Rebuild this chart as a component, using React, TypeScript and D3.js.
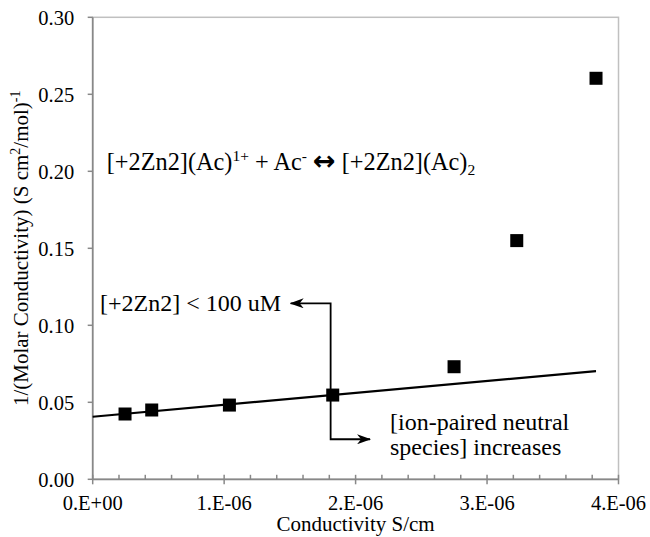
import { useEffect, useRef } from 'react';
import * as d3 from 'd3';

// measured points: conductivity (S/cm) vs 1/molar conductivity
const conductivity = [0.246e-6, 0.449e-6, 1.04e-6, 1.826e-6, 2.749e-6, 3.226e-6, 3.829e-6];
const invMolarCond = [0.0424, 0.045, 0.0482, 0.0547, 0.0731, 0.155, 0.2604];

// linear trendline (excel fit on dilute points), start / end
const trendX = [0, 3.829e-6];
const trendY = [0.0406, 0.0703];

const xTicks = [0, 1e-6, 2e-6, 3e-6, 4e-6];
const xTickLabels = ['0.E+00', '1.E-06', '2.E-06', '3.E-06', '4.E-06'];
const yTicks = [0, 0.05, 0.1, 0.15, 0.2, 0.25, 0.3];
const yTickLabels = ['0.00', '0.05', '0.10', '0.15', '0.20', '0.25', '0.30'];

const FONT = '"Liberation Serif", "Times New Roman", serif';

const App = () => {
    const ref = useRef<SVGSVGElement | null>(null);

    useEffect(() => {
        const width = 650;
        const height = 537;
        const left = 92.7;
        const right = 618.5;
        const top = 17.3;
        const bottom = 479.3;

        const svg = d3.select(ref.current);
        svg.selectAll('*').remove();

        const x = d3.scaleLinear().domain([0, 4e-6]).range([left, right]);
        const y = d3.scaleLinear().domain([0, 0.3]).range([bottom, top]);

        svg.attr('width', width).attr('height', height);

        // plot area border (light)
        svg.append('rect')
            .attr('x', left).attr('y', top)
            .attr('width', right - left).attr('height', bottom - top)
            .attr('fill', 'none')
            .attr('stroke', '#c0c0c0')
            .attr('stroke-width', 1.5);

        const axisColor = '#888888';

        // y axis
        const gy = svg.append('g');
        gy.append('line')
            .attr('x1', left).attr('x2', left)
            .attr('y1', top).attr('y2', bottom)
            .attr('stroke', axisColor).attr('stroke-width', 1.7);
        gy.selectAll('line.tick')
            .data(yTicks)
            .join('line')
            .attr('class', 'tick')
            .attr('x1', left - 5).attr('x2', left)
            .attr('y1', d => y(d)).attr('y2', d => y(d))
            .attr('stroke', axisColor).attr('stroke-width', 1.5);
        gy.selectAll('text')
            .data(yTicks)
            .join('text')
            .attr('x', left - 18.5)
            .attr('y', d => y(d))
            .attr('dy', '0.36em')
            .attr('text-anchor', 'end')
            .attr('font-family', FONT)
            .attr('font-size', 20.5)
            .text((d, i) => yTickLabels[i]);

        // x axis: majors cross the line, minors point inward
        const gx = svg.append('g');
        gx.append('line')
            .attr('x1', left).attr('x2', right)
            .attr('y1', bottom).attr('y2', bottom)
            .attr('stroke', axisColor).attr('stroke-width', 1.7);
        const minor = d3.range(1, 20).map(i => i * 0.2e-6).filter(v => Math.abs(v / 1e-6 - Math.round(v / 1e-6)) > 1e-6);
        gx.selectAll('line.minor')
            .data(minor)
            .join('line')
            .attr('class', 'minor')
            .attr('x1', d => x(d)).attr('x2', d => x(d))
            .attr('y1', bottom - 4.5).attr('y2', bottom)
            .attr('stroke', axisColor).attr('stroke-width', 1.5);
        gx.selectAll('line.major')
            .data(xTicks)
            .join('line')
            .attr('class', 'major')
            .attr('x1', d => x(d)).attr('x2', d => x(d))
            .attr('y1', bottom - 4.5).attr('y2', bottom + 5)
            .attr('stroke', axisColor).attr('stroke-width', 1.5);
        gx.selectAll('text')
            .data(xTicks)
            .join('text')
            .attr('x', d => x(d))
            .attr('y', bottom + 30.5)
            .attr('text-anchor', 'middle')
            .attr('font-family', FONT)
            .attr('font-size', 20.5)
            .text((d, i) => xTickLabels[i]);

        // axis titles
        svg.append('text')
            .attr('x', (left + right) / 2)
            .attr('y', 531)
            .attr('text-anchor', 'middle')
            .attr('font-family', FONT)
            .attr('font-size', 21)
            .text('Conductivity S/cm');

        const yt = svg.append('text')
            .attr('transform', `translate(27.5,${(top + bottom) / 2}) rotate(-90)`)
            .attr('text-anchor', 'middle')
            .attr('font-family', FONT)
            .attr('font-size', 21);
        yt.append('tspan').text('1/(Molar Conductivity) (S cm');
        yt.append('tspan').attr('dy', -8).attr('font-size', 14).text('2');
        yt.append('tspan').attr('dy', 8).text('/mol)');
        yt.append('tspan').attr('dy', -8).attr('font-size', 14).text('-1');

        // trendline
        const line = d3.line<number>()
            .x(d => x(d))
            .y((d, i) => y(trendY[i]));
        svg.append('path')
            .datum(trendX)
            .attr('d', line)
            .attr('fill', 'none')
            .attr('stroke', '#000')
            .attr('stroke-width', 2.2);

        // markers
        const s = 13;
        svg.append('g')
            .selectAll('rect')
            .data(conductivity)
            .join('rect')
            .attr('x', d => x(d) - s / 2)
            .attr('y', (d, i) => y(invMolarCond[i]) - s / 2)
            .attr('width', s)
            .attr('height', s)
            .attr('fill', '#000');

        // arrowheads
        const defs = svg.append('defs');
        defs.append('marker')
            .attr('id', 'stealth')
            .attr('viewBox', '0 0 14 10')
            .attr('refX', 13)
            .attr('refY', 5)
            .attr('markerUnits', 'userSpaceOnUse')
            .attr('markerWidth', 14)
            .attr('markerHeight', 10)
            .attr('orient', 'auto-start-reverse')
            .append('path')
            .attr('d', 'M0,0 L14,5 L0,10 L4,5 Z')
            .attr('fill', '#000');

        // elbow connector between the two notes
        const cx = 1.81e-6;
        const conn = [
            [1.506e-6, 0.1143],
            [cx, 0.1143],
            [cx, 0.026],
            [2.11e-6, 0.026],
        ];
        svg.append('path')
            .attr('d', d3.line().x(d => x(d[0])).y(d => y(d[1]))(conn as [number, number][]))
            .attr('fill', 'none')
            .attr('stroke', '#000')
            .attr('stroke-width', 1.8)
            .attr('marker-start', 'url(#stealth)')
            .attr('marker-end', 'url(#stealth)');

        // annotations
        const eq = svg.append('text')
            .attr('x', x(0.107e-6))
            .attr('y', y(0.2008))
            .attr('font-family', FONT)
            .attr('font-size', 24.3);
        eq.append('tspan').text('[+2Zn2](Ac)');
        eq.append('tspan').attr('dy', -9).attr('font-size', 15.5).text('1+');
        eq.append('tspan').attr('dy', 9).text(' + Ac');
        eq.append('tspan').attr('dy', -9).attr('font-size', 15.5).text('-');
        eq.append('tspan').attr('dy', 9).text(' ');
        eq.append('tspan')
            .attr('font-weight', 'bold')
            .attr('font-family', '"DejaVu Sans", sans-serif')
            .attr('font-size', 27)
            .text('\u2194');
        eq.append('tspan').text(' [+2Zn2](Ac)');
        eq.append('tspan').attr('dy', 5).attr('font-size', 15.5).text('2');

        svg.append('text')
            .attr('x', x(0.056e-6))
            .attr('y', y(0.1095))
            .attr('font-family', FONT)
            .attr('font-size', 24)
            .text('[+2Zn2] < 100 uM');

        const ion = svg.append('text')
            .attr('font-family', FONT)
            .attr('font-size', 24);
        ion.append('tspan').attr('x', x(2.262e-6)).attr('y', y(0.032)).text('[ion-paired neutral');
        ion.append('tspan').attr('x', x(2.262e-6)).attr('y', y(0.0158)).text('species] increases');
    }, []);

    return (
        <div style={{ position: 'absolute', left: 0, top: 0 }}>
            <svg ref={ref} style={{ display: 'block', background: '#fff' }} />
        </div>
    );
};

export default App;
